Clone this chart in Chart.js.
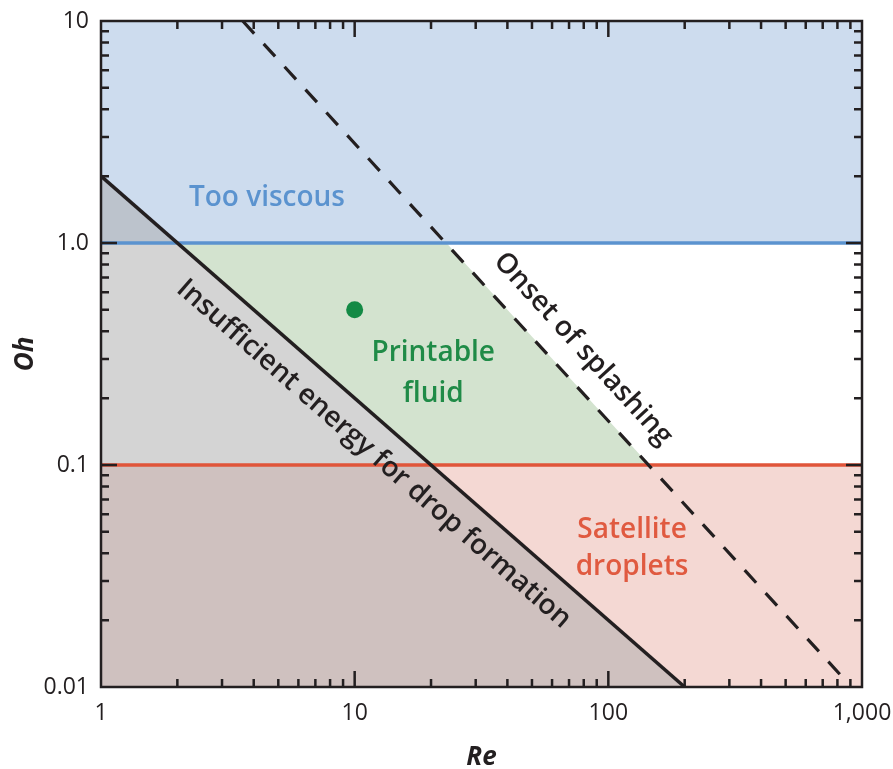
<!DOCTYPE html>
<html>
<head>
<meta charset="utf-8">
<title>Printability map</title>
<script src="https://cdn.jsdelivr.net/npm/chart.js@4.4.0/dist/chart.umd.min.js"></script>
<style>
	html, body { margin: 0; padding: 0; background: #fff; }
	#grafico { display: block; }
</style>
</head>
<body>
<canvas id="grafico" width="893" height="769"></canvas>
<script>

// axis ticks
const ticksX = [1, 10, 100, 1000];
const labelsX = ["1", "10", "100", "1,000"];
const ticksY = [0.01, 0.1, 1, 10];
const labelsY = ["0.01", "0.1", "1.0", "10"];

// regions (Re, Oh)
const tooViscous = [{x: 1, y: 10}, {x: 1000, y: 10}];
const satellite = [{x: 1, y: 0.1}, {x: 1000, y: 0.1}];
const printableTop = [{x: 2, y: 1}, {x: 23, y: 1}, {x: 145, y: 0.1}];
const printableBottom = [{x: 2, y: 1}, {x: 20, y: 0.1}, {x: 145, y: 0.1}];

// limit lines
const ohUpper = [{x: 1, y: 1}, {x: 1000, y: 1}];
const ohLower = [{x: 1, y: 0.1}, {x: 1000, y: 0.1}];
const dropFormation = [{x: 1, y: 2}, {x: 200, y: 0.01}];
const splashing = [{x: 3.62, y: 10}, {x: 830, y: 0.0112}];

// example fluid
const fluidPoint = [{x: 10, y: 0.5}];

const ink = "#231f20";
const fontName = "'Open Sans', 'Noto Sans', sans-serif";

function area(data, color, fill, order) {
	return {
		data: data,
		fill: fill,
		backgroundColor: color,
		borderWidth: 0,
		pointRadius: 0,
		order: order
	};
}

function line(data, color, width, order, dash) {
	return {
		data: data,
		fill: false,
		borderColor: color,
		borderWidth: width,
		borderDash: dash || [],
		borderCapStyle: "butt",
		pointRadius: 0,
		order: order
	};
}

function lineAngle(sx, sy, pts) {
	const a = pts[0];
	const b = pts[pts.length - 1];
	return Math.atan2(sy.getPixelForValue(b.y) - sy.getPixelForValue(a.y), sx.getPixelForValue(b.x) - sx.getPixelForValue(a.x));
}

function tickLabel(values, labels) {
	return function (value) {
		const i = values.indexOf(value);
		return i < 0 ? "" : labels[i];
	};
}

// frame, inward ticks on all four sides, and the region labels
const decorations = {
	id: "decorations",
	afterDatasetsDraw(chart) {
		const ctx = chart.ctx;
		const ca = chart.chartArea;
		const sx = chart.scales.x;
		const sy = chart.scales.y;

		ctx.save();
		ctx.strokeStyle = ink;
		ctx.lineWidth = 2.5;
		ctx.beginPath();
		[1, 10, 100].forEach(d => {
			for (let k = 1; k < 10; k++) {
				if (d === 1 && k === 1) continue;
				const px = sx.getPixelForValue(d * k);
				const len = k === 1 ? 16 : 8;
				ctx.moveTo(px, ca.bottom); ctx.lineTo(px, ca.bottom - len);
				ctx.moveTo(px, ca.top); ctx.lineTo(px, ca.top + len);
			}
		});
		[0.01, 0.1, 1].forEach(d => {
			for (let k = 1; k < 10; k++) {
				if (d === 0.01 && k === 1) continue;
				const py = sy.getPixelForValue(d * k);
				const len = k === 1 ? 16 : 8;
				ctx.moveTo(ca.left, py); ctx.lineTo(ca.left + len, py);
				ctx.moveTo(ca.right, py); ctx.lineTo(ca.right - len, py);
			}
		});
		ctx.stroke();
		ctx.strokeRect(ca.left, ca.top, ca.right - ca.left, ca.bottom - ca.top);

		const text = (str, re, oh, color, angle, baseline) => {
			ctx.save();
			ctx.translate(sx.getPixelForValue(re), sy.getPixelForValue(oh));
			ctx.rotate(angle || 0);
			ctx.fillStyle = color;
			ctx.textAlign = "center";
			ctx.textBaseline = baseline || "alphabetic";
			ctx.fillText(str, 0, 0);
			ctx.restore();
		};
		ctx.font = "600 28px " + fontName;
		text("Too viscous", 4.51, 1.47, "#5b93cf");
		text("Printable", 20.4, 0.294, "#1f8b47");
		text("fluid", 20.4, 0.192, "#1f8b47");
		text("Satellite", 124, 0.0469, "#e05a40");
		text("droplets", 124, 0.032, "#e05a40");
		text("Onset of splashing", 79.4, 0.333, ink, lineAngle(sx, sy, splashing), "middle");
		text("Insufficient energy for drop formation", 11.9, 0.112, ink, lineAngle(sx, sy, dropFormation), "middle");
		ctx.restore();
	}
};

const config = {
	type: "line",
	data: {
		datasets: [
			area(tooViscous, "#cddcee", {value: 1}, 20),
			area(satellite, "#f4d8d3", "start", 19),
			area(printableTop, "#d3e3cf", "+1", 18),
			area(printableBottom, "rgba(0,0,0,0)", false, 17),
			area(dropFormation, "rgba(172,172,172,0.52)", "start", 16),
			line(ohUpper, "#5b93cf", 3.5, 10),
			line(ohLower, "#e0553a", 3.5, 9),
			line(dropFormation, ink, 3.5, 8),
			line(splashing, ink, 3.2, 7, [17, 14]),
			{
				data: fluidPoint,
				showLine: false,
				pointRadius: 8.5,
				pointBackgroundColor: "#138a45",
				pointBorderWidth: 0,
				order: 1
			}
		]
	},
	options: {
		responsive: false,
		animation: false,
		layout: { padding: { left: 0, top: 21, right: 31, bottom: 0 } },
		plugins: {
			legend: { display: false },
			tooltip: { enabled: false }
		},
		scales: {
			x: {
				type: "logarithmic",
				min: 1,
				max: 1000,
				grid: { display: false, drawTicks: false },
				border: { display: false },
				afterBuildTicks: s => { s.ticks = ticksX.map(v => ({ value: v })); },
				afterFit: s => { s.height = 82; s.paddingLeft = 0; s.paddingRight = 0; },
				ticks: {
					autoSkip: false,
					maxRotation: 0,
					padding: 13,
					color: ink,
					font: { family: fontName, size: 23 },
					callback: tickLabel(ticksX, labelsX)
				},
				title: {
					display: true,
					text: "Re",
					color: ink,
					font: { family: fontName, size: 26, weight: "bold", style: "italic", lineHeight: 1 },
					padding: { top: 0, bottom: -2 }
				}
			},
			y: {
				type: "logarithmic",
				min: 0.01,
				max: 10,
				grid: { display: false, drawTicks: false },
				border: { display: false },
				afterBuildTicks: s => { s.ticks = ticksY.map(v => ({ value: v })); },
				afterFit: s => { s.width = 101; s.paddingTop = 0; s.paddingBottom = 0; },
				ticks: {
					autoSkip: false,
					padding: 12,
					color: ink,
					font: { family: fontName, size: 23 },
					callback: tickLabel(ticksY, labelsY)
				},
				title: {
					display: true,
					text: "Oh",
					color: ink,
					font: { family: fontName, size: 26, weight: "bold", style: "italic", lineHeight: 1 },
					padding: { top: 13, bottom: 0 }
				}
			}
		}
	},
	plugins: [decorations]
};

const grafico = new Chart(document.getElementById("grafico"), config);
</script>
</body>
</html>
